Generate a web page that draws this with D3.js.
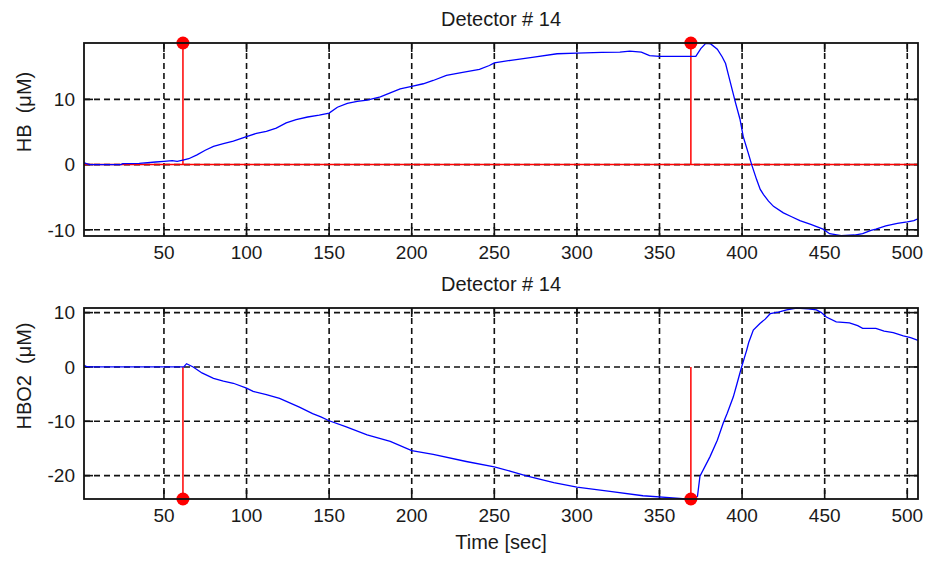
<!DOCTYPE html>
<html>
<head>
<meta charset="utf-8">
<script src="https://cdn.jsdelivr.net/npm/d3@7"></script>
<style>
  body { margin: 0; background: #fff; }
  svg text { font-family: "Liberation Sans", Arial, sans-serif; fill: #1a1a1a; }
</style>
</head>
<body>
<div id="graph"></div>
<script>
// time axis (sec) and readings for detector 14
var hbTime = [1.6, 3, 5, 24, 25, 35, 45, 50, 55, 58, 61.5, 65, 70, 75, 80, 86, 92, 100, 106, 112, 118, 124, 130, 137, 144, 150,
  155, 161, 167, 173, 181, 187, 193, 200, 207, 213, 221, 230, 241, 247, 250, 260, 274, 288, 300, 315, 326, 332, 339, 344,
  350, 372, 375, 378, 381, 385, 388, 390, 392, 394, 396, 398.7, 400.7, 403.7, 405.8, 408.8, 411, 413, 416, 419, 425, 430,
  435, 442, 449, 453, 460, 468, 473, 478, 481, 487, 494, 500, 504, 506.5];
var hbValues = [0.3, 0.15, 0, 0, 0.15, 0.2, 0.4, 0.5, 0.6, 0.5, 0.7, 0.9, 1.5, 2.2, 2.8, 3.2, 3.6, 4.3, 4.8, 5.1, 5.6, 6.4, 6.9, 7.3, 7.6, 7.9,
  8.8, 9.4, 9.7, 9.9, 10.4, 11.0, 11.6, 12.0, 12.4, 12.9, 13.7, 14.1, 14.6, 15.2, 15.6, 16.0, 16.5, 17.0, 17.1, 17.2, 17.25, 17.4, 17.25, 16.7,
  16.6, 16.6, 17.8, 18.6, 18.5, 17.7, 16.5, 15.5, 13.5, 11.5, 9.5, 7.0, 4.3, 1.8, 0, -2.3, -3.8, -4.6, -5.6, -6.4, -7.4, -8.0,
  -8.6, -9.2, -9.9, -10.6, -10.9, -10.8, -10.6, -10.1, -9.9, -9.4, -9.0, -8.8, -8.6, -8.3];

var hbo2Time = [1.6, 3, 5, 62, 63.7, 67.7, 73, 80, 86, 92, 100, 104, 112, 120, 132, 140, 145, 150, 160, 173, 187, 200, 213, 233,
  250, 260, 270, 286, 300, 320, 340, 358, 366, 373, 374.5, 380.6, 385, 388.6, 391, 394.7, 397, 399.7, 402.8, 404, 406.8,
  410.8, 414, 417, 422, 427, 433, 440, 445, 448, 451, 457, 465, 470, 473, 481, 486, 491.5, 497.6, 502, 506.5];
var hbo2Values = [0.3, 0.1, 0, 0, 0.6, 0, -1.1, -2.1, -2.6, -3.0, -3.9, -4.5, -5.1, -5.8, -7.4, -8.6, -9.2, -9.9, -11.0, -12.5, -13.7, -15.4, -16.1, -17.4,
  -18.4, -19.2, -20.1, -21.3, -22.1, -22.9, -23.7, -24.1, -24.3, -23.8, -20.1, -16.5, -13.5, -10.3, -8.5, -5.5, -3.0, 0, 3.1, 4.5, 6.8,
  8.0, 8.8, 9.8, 10.1, 10.5, 10.85, 10.7, 10.5, 10.0, 9.2, 8.3, 8.1, 7.6, 7.1, 7.1, 6.6, 6.3, 5.7, 5.4, 4.9];

// event markers (sec)
var stemTimes = [61.5, 369];

var timeDomain = [1.6, 506.5];
var timeTicks = [50, 100, 150, 200, 250, 300, 350, 400, 450, 500];
var hbDomain = [-10.95, 18.65];
var hbTicks = [-10, 0, 10];
var hbo2Domain = [-24.3, 10.85];
var hbo2Ticks = [-20, -10, 0, 10];

var W = 928, H = 561;
var left = 84, right = 918;

var svg = d3.select('#graph').append('svg')
    .attr('width', W)
    .attr('height', H);

var x = d3.scaleLinear().domain(timeDomain).range([left, right]);

function draw_panel(top, bottom, yDomain, yTicks, times, values, label, labelY, stemUp, baseline){
  var y = d3.scaleLinear().domain(yDomain).range([bottom, top]);
  var g = svg.append('g');

  // grid
  g.append('g').selectAll('line')
      .data(timeTicks)
      .enter().append('line')
      .attr('x1', function(d){ return x(d); })
      .attr('x2', function(d){ return x(d); })
      .attr('y1', top).attr('y2', bottom)
      .attr('stroke', '#111').attr('stroke-width', 1.6)
      .attr('stroke-dasharray', '6,4');
  g.append('g').selectAll('line')
      .data(yTicks)
      .enter().append('line')
      .attr('y1', function(d){ return y(d); })
      .attr('y2', function(d){ return y(d); })
      .attr('x1', left).attr('x2', right)
      .attr('stroke', '#111').attr('stroke-width', 1.6)
      .attr('stroke-dasharray', '6,4');

  // ticks (inside, all four sides)
  var tl = 9;
  timeTicks.forEach(function(d){
    g.append('line').attr('x1', x(d)).attr('x2', x(d)).attr('y1', bottom).attr('y2', bottom - tl)
      .attr('stroke', '#111').attr('stroke-width', 1.6);
    g.append('line').attr('x1', x(d)).attr('x2', x(d)).attr('y1', top).attr('y2', top + tl)
      .attr('stroke', '#111').attr('stroke-width', 1.6);
  });
  yTicks.forEach(function(d){
    g.append('line').attr('x1', left).attr('x2', left + tl).attr('y1', y(d)).attr('y2', y(d))
      .attr('stroke', '#111').attr('stroke-width', 1.6);
    g.append('line').attr('x1', right).attr('x2', right - tl).attr('y1', y(d)).attr('y2', y(d))
      .attr('stroke', '#111').attr('stroke-width', 1.6);
  });

  // stems
  if (baseline) {
    g.append('line')
      .attr('x1', left).attr('x2', right)
      .attr('y1', y(0)).attr('y2', y(0))
      .attr('stroke', '#ff0000').attr('stroke-width', 1.5);
  }
  var stemEnd = stemUp ? yDomain[1] : yDomain[0];
  g.append('g').selectAll('line')
      .data(stemTimes)
      .enter().append('line')
      .attr('x1', function(d){ return x(d); })
      .attr('x2', function(d){ return x(d); })
      .attr('y1', y(0)).attr('y2', y(stemEnd))
      .attr('stroke', '#ff0000').attr('stroke-width', 1.5);

  // data line
  var line = d3.line()
      .x(function(d){ return x(d[0]); })
      .y(function(d){ return y(d[1]); });
  g.append('path')
      .datum(times.map(function(t, i){ return [t, values[i]]; }))
      .attr('d', line)
      .attr('fill', 'none')
      .attr('stroke', '#0000ff')
      .attr('stroke-width', 1.3);

  g.append('g').selectAll('circle')
      .data(stemTimes)
      .enter().append('circle')
      .attr('cx', function(d){ return x(d); })
      .attr('cy', y(stemEnd))
      .attr('r', 6.5)
      .attr('fill', '#ff0000');

  // box
  g.append('rect')
      .attr('x', left).attr('y', top)
      .attr('width', right - left).attr('height', bottom - top)
      .attr('fill', 'none').attr('stroke', '#111').attr('stroke-width', 1.8);

  // tick labels
  g.append('g').selectAll('text')
      .data(timeTicks)
      .enter().append('text')
      .attr('x', function(d){ return x(d); })
      .attr('y', bottom + 23)
      .attr('text-anchor', 'middle')
      .attr('font-size', '19px')
      .text(function(d){ return d; });
  g.append('g').selectAll('text')
      .data(yTicks)
      .enter().append('text')
      .attr('x', left - 9)
      .attr('y', function(d){ return y(d); })
      .attr('dy', '0.36em')
      .attr('text-anchor', 'end')
      .attr('font-size', '19px')
      .text(function(d){ return d; });

  // title
  g.append('text')
      .attr('x', (left + right) / 2)
      .attr('y', top - 17)
      .attr('text-anchor', 'middle')
      .attr('font-size', '20px')
      .text('Detector # 14');

  // y label
  g.append('text')
      .attr('transform', 'translate(31,' + labelY + ')rotate(-90)')
      .attr('text-anchor', 'middle')
      .attr('font-size', '20px')
      .style('white-space', 'pre')
      .text(label);
}

draw_panel(43, 236, hbDomain, hbTicks, hbTime, hbValues, 'HB  (\u03bcM)', 112, true, true);
draw_panel(308, 499, hbo2Domain, hbo2Ticks, hbo2Time, hbo2Values, 'HBO2  (\u03bcM)', 376, false, false);

svg.append('text')
    .attr('x', (left + right) / 2)
    .attr('y', 549)
    .attr('text-anchor', 'middle')
    .attr('font-size', '20px')
    .text('Time [sec]');
</script>
</body>
</html>
